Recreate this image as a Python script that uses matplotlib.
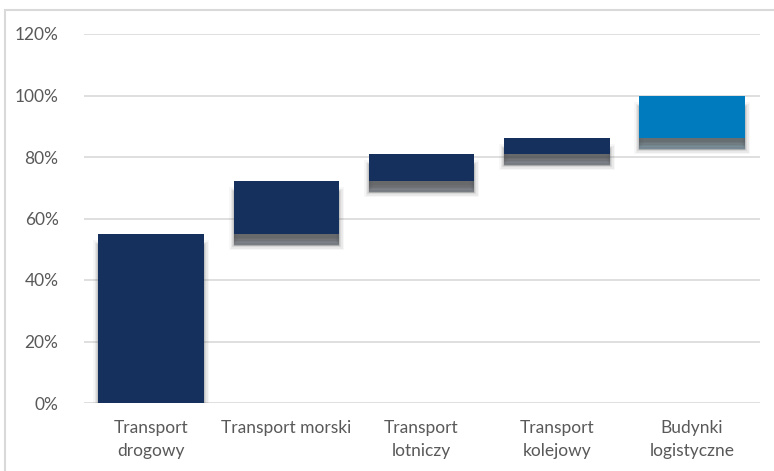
import numpy as np
import matplotlib.pyplot as plt
import matplotlib.patheffects as pe
from matplotlib.patches import Rectangle

categories = ["Transport\ndrogowy", "Transport morski", "Transport\nlotniczy",
              "Transport\nkolejowy", "Budynki\nlogistyczne"]
shares = [0.55, 0.172, 0.088, 0.052, 0.138]  # udzial kazdej kategorii
yticks = [0, 0.2, 0.4, 0.6, 0.8, 1.0, 1.2]

tops = np.cumsum(shares)
bottoms = tops - np.array(shares)
colors = ["#15305c"] * 4 + ["#007bbd"]

plt.rcParams['font.family'] = ['Lato', 'DejaVu Sans']

fig = plt.figure(figsize=(7.74, 4.71), dpi=100)
fig.patches.append(Rectangle((5 / 774, -0.05), 1.0, 1.05 - 10 / 471, transform=fig.transFigure,
                             fill=False, edgecolor="#d9d9d9", linewidth=1.5))
ax = fig.add_axes([83.5 / 774, 1 - 403 / 471, (759.6 - 83.5) / 774, (403 - 34) / 471])

# soft gray shadow, faked with stacked offset copies (outer = wide + faint)
shadow = []
for lw, a in [(7, 0.05), (5, 0.07), (3, 0.1), (1.5, 0.14)]:
    shadow.append(pe.Stroke(offset=(0, -8), linewidth=lw, foreground="#505050", alpha=a))
for d in [9, 8, 7, 6, 5, 4, 3]:
    shadow.append(pe.SimplePatchShadow(offset=(0, -d), shadow_rgbFace="#555555", alpha=0.2))
shadow.append(pe.Normal())

x = np.arange(len(categories))
bars = ax.bar(x, shares, bottom=bottoms, width=0.78, color=colors, zorder=3)
for b in bars:
    b.set_path_effects(shadow)

ax.set_ylim(0, 1.2)
ax.set_xlim(-0.5, len(categories) - 0.5)
ax.set_yticks(yticks)
ax.set_yticklabels([f"{int(round(v * 100))}%" for v in yticks])
ax.set_xticks(x)
ax.set_xticklabels(categories, linespacing=1.55)
ax.grid(axis="y", color="#d9d9d9", linewidth=1.2, zorder=0)
for s in ax.spines.values():
    s.set_visible(False)
ax.tick_params(length=0, labelsize=12.5, colors="#595959", pad=12)
ax.tick_params(axis="y", pad=18)

fig.savefig("out.png", dpi=100)
